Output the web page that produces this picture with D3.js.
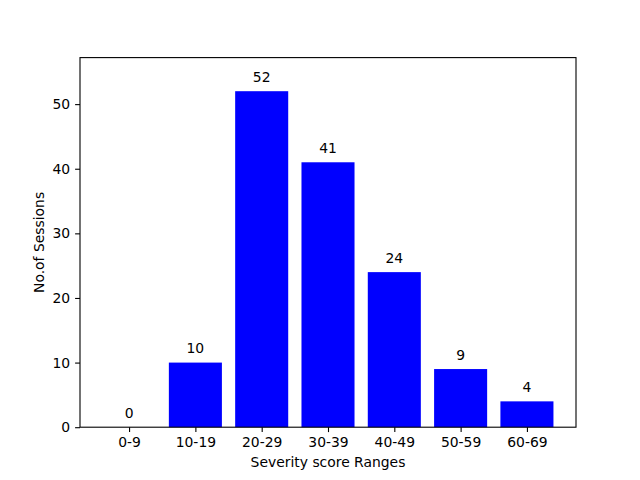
<!DOCTYPE html>
<html>
<head>
<meta charset="utf-8">
<script src="https://cdn.jsdelivr.net/npm/d3@7"></script>
<style>
html,body{margin:0;padding:0;background:#fff;}
svg{display:block;font-family:"DejaVu Sans",sans-serif;}
</style>
</head>
<body>
<svg id="chart" width="640" height="480"></svg>
<script>
const categories = ["0-9","10-19","20-29","30-39","40-49","50-59","60-69"];
const sessions = [0,10,52,41,24,9,4];
const yTicks = [0,10,20,30,40,50];
const xLabel = "Severity score Ranges";
const yLabel = "No.of Sessions";

const svg = d3.select("#chart");
const L = 80, R = 576, T = 57.6, B = 427.2;
const fs = 13.9;

const x = d3.scaleLinear().domain([-0.74, categories.length - 1 + 0.74]).range([L, R]);
const y = d3.scaleLinear().domain([0, 57.2]).range([B, T]);
const bw = 0.8;

svg.append("g").selectAll("rect").data(sessions).join("rect")
  .attr("x", (d,i) => x(i - bw/2))
  .attr("width", (d,i) => x(i + bw/2) - x(i - bw/2))
  .attr("y", d => y(d))
  .attr("height", d => y(0) - y(d))
  .attr("fill", "#0000ff");

svg.append("g").selectAll("text").data(sessions).join("text")
  .attr("x", (d,i) => x(i))
  .attr("y", d => y(d) - 9.5)
  .attr("text-anchor", "middle")
  .attr("font-size", fs)
  .attr("fill", "#000")
  .text(d => d);

// frame
svg.append("rect").attr("x", L).attr("y", T).attr("width", R-L).attr("height", B-T)
  .attr("fill", "none").attr("stroke", "#000").attr("stroke-width", 1.1);

const xAxis = d3.axisBottom(x).tickValues(d3.range(categories.length))
  .tickFormat(i => categories[i]).tickSize(4.9).tickPadding(4.9);
const gx = svg.append("g").attr("transform", `translate(0,${B})`).call(xAxis);
gx.select(".domain").remove();
gx.selectAll("text").attr("font-size", fs).attr("font-family", "DejaVu Sans").attr("fill", "#000");
gx.selectAll("line").attr("stroke", "#000").attr("stroke-width", 1.1);

const yAxis = d3.axisLeft(y).tickValues(yTicks).tickSize(4.9).tickPadding(4.9);
const gy = svg.append("g").attr("transform", `translate(${L},0)`).call(yAxis);
gy.select(".domain").remove();
gy.selectAll("text").attr("font-size", fs).attr("font-family", "DejaVu Sans").attr("fill", "#000");
gy.selectAll("line").attr("stroke", "#000").attr("stroke-width", 1.1);

svg.append("text").attr("x", (L+R)/2).attr("y", 467).attr("text-anchor", "middle")
  .attr("font-size", fs).text(xLabel);
svg.append("text").attr("transform", `translate(44,${(T+B)/2}) rotate(-90)`)
  .attr("text-anchor", "middle").attr("font-size", fs).text(yLabel);
</script>
</body>
</html>
